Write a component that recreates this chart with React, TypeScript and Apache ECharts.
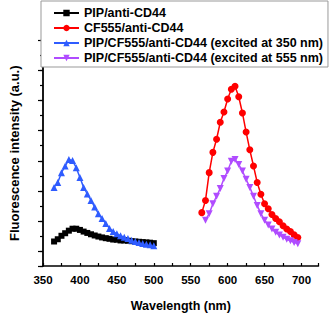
import React, { useEffect, useRef } from "react";
import * as echarts from "echarts";

// Wavelengths (nm)
const wlUV = [365, 370, 375, 380, 385, 390, 395, 400, 405, 410, 415, 420, 425, 430, 435, 440, 445, 450, 455, 460, 465, 470, 475, 480, 485, 490, 495, 500];
const wlRed = [565, 570, 575, 580, 585, 590, 595, 600, 605, 610, 615, 620, 625, 630, 635, 640, 645, 650, 655, 660, 665, 670, 675, 680, 685, 690, 695];
const wlPurple = [570, 575, 580, 585, 590, 595, 600, 605, 610, 615, 620, 625, 630, 635, 640, 645, 650, 655, 660, 665, 670, 675, 680, 685, 690, 695];

// Intensities (a.u.)
const pipAnti = [1.63, 1.78, 2.01, 2.18, 2.35, 2.48, 2.48, 2.4, 2.29, 2.2, 2.11, 2.03, 1.96, 1.9, 1.85, 1.81, 1.76, 1.75, 1.7, 1.7, 1.68, 1.65, 1.63, 1.61, 1.59, 1.57, 1.55, 1.52];
const cf555Anti = [3.55, 4.36, 6.21, 7.56, 8.43, 9.56, 10.24, 11.11, 11.76, 11.96, 11.26, 10.18, 8.91, 7.73, 6.65, 5.56, 4.77, 4.14, 3.81, 3.42, 3.16, 2.94, 2.68, 2.46, 2.29, 2.07, 1.9];
const ex350 = [5.23, 5.56, 6.21, 6.65, 7.08, 7.01, 6.54, 5.88, 5.23, 4.79, 4.36, 3.92, 3.48, 3.16, 2.83, 2.5, 2.29, 2.14, 2.01, 1.92, 1.83, 1.72, 1.63, 1.57, 1.5, 1.45, 1.41, 1.35];
const ex555 = [3.05, 3.48, 4.14, 4.64, 5.16, 5.82, 6.32, 6.97, 7.08, 6.75, 6.32, 5.77, 5.23, 4.64, 4.03, 3.48, 3.05, 2.73, 2.46, 2.24, 2.07, 1.92, 1.78, 1.68, 1.57, 1.48];

const seriesNames = [
  "PIP/anti-CD44",
  "CF555/anti-CD44",
  "PIP/CF555/anti-CD44 (excited at 350 nm)",
  "PIP/CF555/anti-CD44 (excited at 555 nm)",
];

const zip = (xs: number[], ys: number[]) => xs.map((x, i) => [x, ys[i]]);

const FONT = "Liberation Sans, Arial, sans-serif";

export default function App() {
  const ref = useRef<HTMLDivElement>(null);
  useEffect(() => {
    if (!ref.current) return;
    const chart = echarts.init(ref.current, undefined, { renderer: "svg" });
    chart.setOption({
      animation: false,
      grid: { left: 36, right: 13.5, top: 40.5, bottom: 47, containLabel: false },
      legend: {
        orient: "vertical",
        left: 41,
        top: 1,
        padding: [5, 5, 2, 12],
        itemWidth: 25,
        itemHeight: 8,
        itemGap: 1,
        backgroundColor: "#fff",
        borderColor: "#999",
        borderWidth: 1,
        textStyle: { fontFamily: FONT, fontWeight: "bold", fontSize: 12.5, color: "#000", lineHeight: 14 },
        data: seriesNames,
      },
      xAxis: {
        type: "value",
        min: 350,
        max: 723,
        interval: 25,
        name: "Wavelength (nm)",
        nameLocation: "middle",
        nameGap: 33,
        nameTextStyle: { fontFamily: FONT, fontWeight: "bold", fontSize: 12.5, color: "#000" },
        axisLine: { show: true, lineStyle: { color: "#000", width: 1.5 } },
        axisTick: { show: true, inside: true, length: 3, lineStyle: { color: "#000", width: 1.2 } },
        axisLabel: {
          margin: 8,
          fontFamily: FONT,
          fontWeight: "bold",
          fontSize: 11.5,
          color: "#000",
          formatter: (v: number) => (v % 50 === 0 && v <= 700 ? String(v) : ""),
        },
        splitLine: { show: false },
      },
      yAxis: [
        {
          type: "value",
          min: 0,
          max: 15,
          interval: 1,
          name: "Fluorescence intensity (a.u.)",
          nameLocation: "middle",
          nameRotate: 90,
          nameGap: 22,
          nameTextStyle: { fontFamily: FONT, fontWeight: "bold", fontSize: 13, color: "#000" },
          axisLine: { show: true, lineStyle: { color: "#000", width: 1.8 } },
          axisTick: { show: true, length: 3, lineStyle: { color: "#000", width: 1.2 } },
          axisLabel: { show: false },
          splitLine: { show: false },
        },
        {
          type: "value",
          position: "left",
          inverse: true,
          min: 0,
          max: 15,
          interval: 2,
          axisLine: { show: false },
          axisTick: { show: true, length: 5, lineStyle: { color: "#000", width: 1.2 } },
          axisLabel: { show: false },
          splitLine: { show: false },
        },
      ],
      series: [
        {
          name: seriesNames[0],
          type: "line",
          data: zip(wlUV, pipAnti),
          symbol: "rect",
          symbolSize: 6,
          color: "#000",
          lineStyle: { width: 1.5, color: "#000" },
          itemStyle: { color: "#000" },
        },
        {
          name: seriesNames[1],
          type: "line",
          data: zip(wlRed, cf555Anti),
          symbol: "circle",
          symbolSize: 7,
          color: "#FF0000",
          lineStyle: { width: 1.5, color: "#FF0000" },
          itemStyle: { color: "#FF0000" },
        },
        {
          name: seriesNames[2],
          type: "line",
          data: zip(wlUV, ex350),
          symbol: "triangle",
          symbolSize: 7,
          color: "#2F5CFF",
          lineStyle: { width: 1.5, color: "#2F5CFF" },
          itemStyle: { color: "#2F5CFF" },
        },
        {
          name: seriesNames[3],
          type: "line",
          data: zip(wlPurple, ex555),
          symbol: "triangle",
          symbolRotate: 180,
          symbolSize: 7,
          color: "#B04CFF",
          lineStyle: { width: 1.5, color: "#B04CFF" },
          itemStyle: { color: "#B04CFF" },
        },
      ],
    });
    return () => chart.dispose();
  }, []);
  return <div ref={ref} style={{ width: 332, height: 317, position: "absolute", left: 0, top: 0 }} />;
}
